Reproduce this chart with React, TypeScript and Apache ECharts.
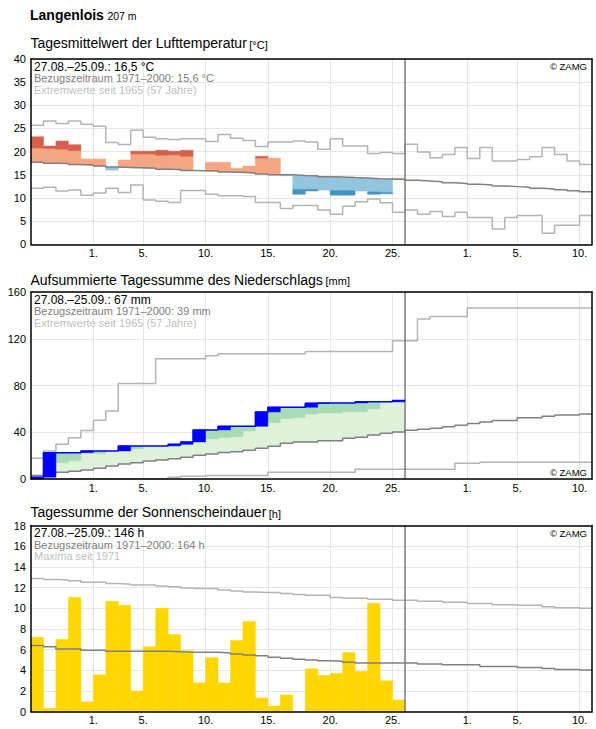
import React, { useEffect, useRef } from 'react';
import * as echarts from 'echarts';

const FONT = '"Liberation Sans", Arial, Helvetica, sans-serif';

// ---------- x axis: day index 0 = 27.08. ----------
const DAY_COUNT = 45; // 27.08. – 10.10.
const OBS_END = 30; // end of 25.09.
const xTickDays = [5, 9, 14, 19, 24, 29, 35, 39, 44];
const xTickLabels = ['1.', '5.', '10.', '15.', '20.', '25.', '1.', '5.', '10.'];

// ---------- temperature [°C] ----------
const tempObs = [23.2, 21.2, 22.3, 21.5, 18.4, 18.4, 16.0, 18.2, 20.1, 20.1, 20.3, 20.1, 20.3, 15.9, 17.7, 17.7, 16.4, 16.9, 19.0, 18.6, 14.8, 10.8, 11.5, 11.7, 10.6, 10.6, 11.5, 10.8, 10.9, 14.2];
const tempUpper = [20.8, 20.7, 20.5, 20.2, null, null, null, null, 19.5, 19.5, 19.2, 19.3, 19.0, null, null, null, null, null, 18.6, null, null, null, null, null, null, null, null, null, null, null];
const tempLower = [null, null, null, null, null, null, null, null, null, null, null, null, null, null, null, null, null, null, null, null, null, 11.85, 11.85, null, 11.6, 11.6, null, 11.3, 11.2, null];
const tempMean = [17.7, 17.5, 17.45, 17.2, 17.1, 16.9, 16.7, 16.6, 16.5, 16.4, 16.2, 16.15, 15.95, 15.9, 15.8, 15.6, 15.55, 15.4, 15.2, 15.0, 15.0, 14.85, 14.8, 14.6, 14.55, 14.4, 14.3, 14.15, 14.1, 14.0, 13.8, 13.65, 13.5, 13.3, 13.15, 12.95, 12.8, 12.6, 12.45, 12.3, 12.1, 11.95, 11.75, 11.55, 11.35];
const tempMax = [25.7, 26.6, 26.1, 26.6, 25.9, 25.5, 22.0, 21.55, 24.6, 23.1, 22.8, 22.6, 22.8, 22.8, 22.2, 23.7, 22.9, 22.4, 21.1, 22.1, 22.1, 22.3, 22.1, 20.5, 22.8, 21.2, 21.2, 19.6, 19.8, 19.6, 21.6, 19.9, 18.7, 19.4, 20.9, 18.5, 20.9, 18.0, 18.0, 18.3, 18.9, 20.9, 19.4, 18.0, 17.2];
const tempMin = [12.1, 12.3, 11.5, 11.7, 10.6, 11.1, 12.1, 11.2, 12.8, 9.55, 9.3, 9.0, 11.6, 11.6, 10.8, 10.5, 10.5, 10.3, 9.0, 9.0, 7.75, 8.4, 8.4, 7.4, 6.5, 8.2, 9.2, 9.8, 8.97, 6.9, 7.4, 6.5, 7.1, 6.0, 6.9, 5.8, 5.8, 3.3, 5.8, 6.2, 6.2, 2.4, 4.1, 4.1, 6.2];

// ---------- cumulative precipitation [mm] ----------
const precipObs = [1.5, 22.5, 22.5, 22.5, 24.0, 24.0, 24.0, 28.3, 28.3, 28.3, 28.3, 29.7, 31.7, 42.0, 42.0, 45.1, 45.1, 45.1, 57.4, 61.4, 61.4, 61.4, 64.8, 65.1, 65.1, 65.1, 66.0, 66.0, 66.0, 67.2];
const precipUpper = [null, null, 14.0, 15.7, null, 21.7, null, null, 25.7, null, null, null, null, null, 34.3, 35.4, 36.2, 41.1, null, 48.2, 51.7, 52.5, 55.5, 56.5, 56.5, 57.5, 57.5, 60.0, null, null];
const precipMean = [3.1, 4.9, 5.7, 6.6, 7.7, 9.1, 11.1, 12.8, 14.0, 15.4, 16.3, 17.4, 18.6, 20.3, 21.4, 22.6, 23.4, 24.6, 26.3, 28.0, 30.6, 31.7, 31.7, 32.8, 32.8, 34.8, 35.7, 37.7, 39.1, 40.3, 41.7, 42.6, 43.5, 44.6, 46.0, 47.5, 48.7, 50.1, 50.1, 52.4, 52.4, 53.6, 54.7, 54.7, 55.6];
const precipMax = [17.7, 24.0, 29.7, 35.4, 41.4, 50.3, 58.2, 81.8, 81.8, 81.8, 102.8, 102.8, 102.8, 102.8, 105.4, 107.1, 107.1, 107.1, 107.1, 107.1, 107.1, 107.1, 109.1, 109.1, 109.1, 109.1, 109.1, 109.1, 109.1, 118.2, 118.2, 137.0, 139.0, 139.0, 139.0, 146.4, 146.4, 146.4, 146.4, 146.4, 146.4, 146.4, 146.4, 146.4, 146.4];
const precipMin = [0, 0, 0, 0, 0, 0, 0, 0, 0, 0, 0, 1.4, 2.3, 2.3, 3.1, 3.1, 3.1, 3.1, 3.1, 5.7, 5.7, 5.7, 5.7, 5.7, 5.7, 5.7, 8.3, 8.3, 8.3, 8.3, 8.3, 8.3, 8.3, 8.3, 13.4, 13.4, 14.3, 14.3, 14.3, 14.3, 14.3, 14.3, 14.3, 14.3, 14.3];

// ---------- sunshine [h] ----------
const sunObs = [7.2, 0.33, 6.97, 11.06, 0.94, 3.57, 10.67, 10.28, 2.01, 6.29, 9.99, 7.46, 5.9, 2.79, 5.22, 2.79, 6.88, 8.73, 1.33, 0.55, 1.62, 0, 4.15, 3.5, 3.7, 5.71, 3.9, 10.48, 2.99, 1.14];
const sunMean = [6.39, 6.29, 6.07, 6.07, 5.94, 5.94, 5.84, 5.84, 5.84, 5.84, 5.84, 5.8, 5.74, 5.74, 5.74, 5.68, 5.58, 5.49, 5.42, 5.26, 5.16, 5.08, 5.0, 4.93, 4.87, 4.78, 4.7, 4.7, 4.7, 4.7, 4.7, 4.62, 4.62, 4.54, 4.54, 4.54, 4.38, 4.38, 4.38, 4.28, 4.28, 4.18, 4.09, 4.09, 4.02];
const sunMax = [12.88, 12.78, 12.72, 12.65, 12.52, 12.52, 12.39, 12.33, 12.26, 12.26, 12.16, 12.07, 11.97, 11.9, 11.9, 11.77, 11.67, 11.58, 11.52, 11.52, 11.42, 11.32, 11.25, 11.25, 11.03, 10.96, 10.96, 10.87, 10.87, 10.77, 10.77, 10.67, 10.67, 10.57, 10.57, 10.45, 10.45, 10.35, 10.35, 10.28, 10.28, 10.15, 10.06, 10.06, 9.99];

// ---------- texts ----------
const pageTitle = 'Langenlois';
const pageSubtitle = '207 m';
const panelTitles = ['Tagesmittelwert der Lufttemperatur', 'Aufsummierte Tagessumme des Niederschlags', 'Tagessumme der Sonnenscheindauer'];
const panelUnits = ['[°C]', '[mm]', '[h]'];
const panelLine1 = ['27.08.–25.09.: 16,5 °C', '27.08.–25.09.: 67 mm', '27.08.–25.09.: 146 h'];
const panelLine2 = ['Bezugszeitraum 1971–2000: 15,6 °C', 'Bezugszeitraum 1971–2000: 39 mm', 'Bezugszeitraum 1971–2000: 164 h'];
const panelLine3 = ['Extremwerte seit 1965 (57 Jahre)', 'Extremwerte seit 1965 (57 Jahre)', 'Maxima seit 1971'];
const yScales = [
  { min: 0, max: 40, interval: 5 },
  { min: 0, max: 160, interval: 40 },
  { min: 0, max: 18, interval: 2 },
];

// ---------- layout / style ----------
const PANELS = [
  { top: 59, height: 185.3, titleY: 43.3, zamgY: 66.7 },
  { top: 292, height: 187, titleY: 279.5, zamgY: 472.7 },
  { top: 525.5, height: 186.2, titleY: 512, zamgY: 533.8 },
];
const PLOT_LEFT = 31;
const PLOT_WIDTH = 561;
const GRID_COLOR = '#e6e6e6';
const MEAN_COLOR = '#808080';
const EXT_COLOR = '#b4b4b4';

function measure(text: string, font: string): number {
  const c = document.createElement('canvas').getContext('2d');
  if (!c) return text.length * 7;
  c.font = font;
  return c.measureText(text).width;
}

type Rect = [number, number, number];

function aboveParts(obs: number[], base: number[], thr: (number | null)[]) {
  const light: Rect[] = [];
  const dark: Rect[] = [];
  obs.forEach((v, k) => {
    const m = base[k];
    const t = thr[k] == null ? Infinity : (thr[k] as number);
    if (v > m) {
      const top = Math.min(v, t);
      if (top > m) light.push([k, m, top]);
      if (v > t) dark.push([k, Math.max(t, m), v]);
    }
  });
  return { light, dark };
}

function belowParts(obs: number[], base: number[], thr: (number | null)[]) {
  const light: Rect[] = [];
  const dark: Rect[] = [];
  obs.forEach((v, k) => {
    const m = base[k];
    const t = thr[k] == null ? -Infinity : (thr[k] as number);
    if (v < m) {
      const bot = Math.max(v, t);
      if (bot < m) light.push([k, bot, m]);
      if (v < t) dark.push([k, v, t]);
    }
  });
  return { light, dark };
}

function rectSeries(data: Rect[], color: string, p: number, z = 2) {
  return {
    type: 'custom',
    xAxisIndex: p * 3,
    yAxisIndex: p * 3,
    data,
    silent: true,
    z,
    encode: { x: 0, y: [1, 2] },
    renderItem: (_params: any, api: any) => {
      const k = api.value(0);
      const lo = api.value(1);
      const hi = api.value(2);
      const a = api.coord([k, lo]);
      const b = api.coord([k + 1, hi]);
      return {
        type: 'rect',
        shape: { x: a[0], y: b[1], width: b[0] - a[0], height: a[1] - b[1] },
        style: { fill: color, stroke: color, lineWidth: 0.5 },
      };
    },
  };
}

function stepLine(values: number[], color: string, p: number, width = 1.5, z = 3, extra: any = {}) {
  const data = values.map((v, i) => [i, v]);
  data.push([values.length, values[values.length - 1]]);
  return {
    type: 'line',
    xAxisIndex: p * 3,
    yAxisIndex: p * 3,
    data,
    step: 'end',
    symbol: 'none',
    silent: true,
    z,
    lineStyle: { color, width },
    ...extra,
  };
}

const obsEndMark = {
  markLine: {
    silent: true,
    symbol: ['none', 'none'],
    label: { show: false },
    lineStyle: { color: '#7a7a7a', width: 1.5, type: 'solid' },
    data: [{ xAxis: OBS_END }],
  },
};

function buildOption() {
  const grids = PANELS.map((pp) => ({
    left: PLOT_LEFT,
    top: pp.top,
    width: PLOT_WIDTH,
    height: pp.height,
    containLabel: false,
  }));

  const xAxes: any[] = [];
  const yAxes: any[] = [];
  PANELS.forEach((_pp, i) => {
    xAxes.push({
      type: 'value', gridIndex: i, min: 0, max: DAY_COUNT, position: 'bottom',
      axisLine: { show: false, onZero: false },
      axisTick: { show: false, customValues: xTickDays },
      axisLabel: {
        customValues: xTickDays,
        formatter: (v: number) => { const j = xTickDays.indexOf(Math.round(v)); return j >= 0 ? xTickLabels[j] : ''; },
        fontSize: 11, color: '#000', fontFamily: FONT, margin: 3,
      },
      splitLine: { show: true, lineStyle: { color: GRID_COLOR, width: 1 } },
    });
    ['bottom', 'top'].forEach((pos) => {
      xAxes.push({
        type: 'value', gridIndex: i, min: 0, max: DAY_COUNT, position: pos, z: 6,
        axisLine: { show: true, onZero: false, lineStyle: { color: '#000', width: 1.5 } },
        axisTick: { show: false }, axisLabel: { show: false }, splitLine: { show: false },
      });
    });
    const ys = yScales[i];
    yAxes.push({
      type: 'value', gridIndex: i, min: ys.min, max: ys.max, interval: ys.interval, position: 'left',
      axisLine: { show: false },
      axisTick: { show: false },
      axisLabel: { fontSize: 11, color: '#000', fontFamily: FONT, margin: 5 },
      splitLine: { show: true, lineStyle: { color: GRID_COLOR, width: 1 } },
    });
    ['left', 'right'].forEach((pos) => {
      yAxes.push({
        type: 'value', gridIndex: i, min: ys.min, max: ys.max, interval: ys.interval, position: pos, z: 6,
        axisLine: { show: true, onZero: false, lineStyle: { color: '#000', width: 1.5 } },
        axisTick: { show: false }, axisLabel: { show: false }, splitLine: { show: false },
      });
    });
  });

  const warm = aboveParts(tempObs, tempMean, tempUpper);
  const cold = belowParts(tempObs, tempMean, tempLower);
  const wet = aboveParts(precipObs, precipMean, precipUpper);
  const dailyRain: Rect[] = [];
  precipObs.forEach((v, k) => {
    const prev = k === 0 ? 0 : precipObs[k - 1];
    if (v > prev) dailyRain.push([k, prev, v]);
  });
  const sunBars: Rect[] = sunObs.map((v, k) => [k, 0, v] as Rect).filter((r) => r[2] > 0);

  const series: any[] = [
    // temperature
    rectSeries(warm.light, '#f4a582', 0),
    rectSeries(warm.dark, '#d6604d', 0),
    rectSeries(cold.light, '#92c5de', 0),
    rectSeries(cold.dark, '#4393c3', 0),
    stepLine(tempMax, EXT_COLOR, 0),
    stepLine(tempMin, EXT_COLOR, 0),
    stepLine(tempMean, MEAN_COLOR, 0, 1.5, 4, obsEndMark),
    // precipitation
    rectSeries(wet.light, '#def2da', 1),
    rectSeries(wet.dark, '#a7dbb3', 1),
    stepLine(precipMax, EXT_COLOR, 1),
    stepLine(precipMin, EXT_COLOR, 1),
    stepLine(precipMean, MEAN_COLOR, 1, 1.5, 4, obsEndMark),
    rectSeries(dailyRain, '#0000ff', 1, 5),
    stepLine(precipObs, '#0000ff', 1, 1.5, 5),
    // sunshine
    rectSeries(sunBars, '#ffd700', 2),
    stepLine(sunMax, EXT_COLOR, 2),
    stepLine(sunMean, MEAN_COLOR, 2, 1.5, 4, obsEndMark),
  ];

  const titleFont = `14px ${FONT}`;
  const graphics: any[] = [
    { type: 'text', x: 30, y: 14.6, z: 100, style: { text: pageTitle, font: `bold 14px ${FONT}`, fill: '#000', verticalAlign: 'middle' } },
    { type: 'text', x: 30 + measure(pageTitle, `bold 14px ${FONT}`) + 3.5, y: 15.6, z: 100, style: { text: pageSubtitle, font: `10.5px ${FONT}`, fill: '#000', verticalAlign: 'middle' } },
  ];
  PANELS.forEach((pp, i) => {
    const tw = measure(panelTitles[i], titleFont);
    graphics.push(
      { type: 'text', x: 30.5, y: pp.titleY, z: 100, style: { text: panelTitles[i], font: titleFont, fill: '#000', verticalAlign: 'middle' } },
      { type: 'text', x: 30.5 + tw + 2.5, y: pp.titleY + 1.5, z: 100, style: { text: panelUnits[i], font: `11px ${FONT}`, fill: '#000', verticalAlign: 'middle' } },
      { type: 'text', x: 34, y: pp.top + 7.7, z: 100, style: { text: panelLine1[i], font: `12px ${FONT}`, fill: '#000', verticalAlign: 'middle' } },
      { type: 'text', x: 34, y: pp.top + 19.2, z: 100, style: { text: panelLine2[i], font: `11px ${FONT}`, fill: '#808080', verticalAlign: 'middle' } },
      { type: 'text', x: 34, y: pp.top + 30.7, z: 100, style: { text: panelLine3[i], font: `11px ${FONT}`, fill: '#c0c0c0', verticalAlign: 'middle' } },
      { type: 'text', x: 587, y: pp.zamgY, z: 100, style: { text: '© ZAMG', font: `9.5px ${FONT}`, fill: '#000', align: 'right', verticalAlign: 'middle' } },
    );
  });

  return {
    animation: false,
    backgroundColor: '#fff',
    grid: grids,
    xAxis: xAxes,
    yAxis: yAxes,
    series,
    graphic: graphics,
  };
}

export default function App() {
  const ref = useRef<HTMLDivElement>(null);
  useEffect(() => {
    if (!ref.current) return;
    const chart = echarts.init(ref.current, null, { renderer: 'svg' });
    chart.setOption(buildOption() as any);
    return () => chart.dispose();
  }, []);
  return <div ref={ref} style={{ position: 'absolute', left: 0, top: 0, width: 596, height: 729 }} />;
}
